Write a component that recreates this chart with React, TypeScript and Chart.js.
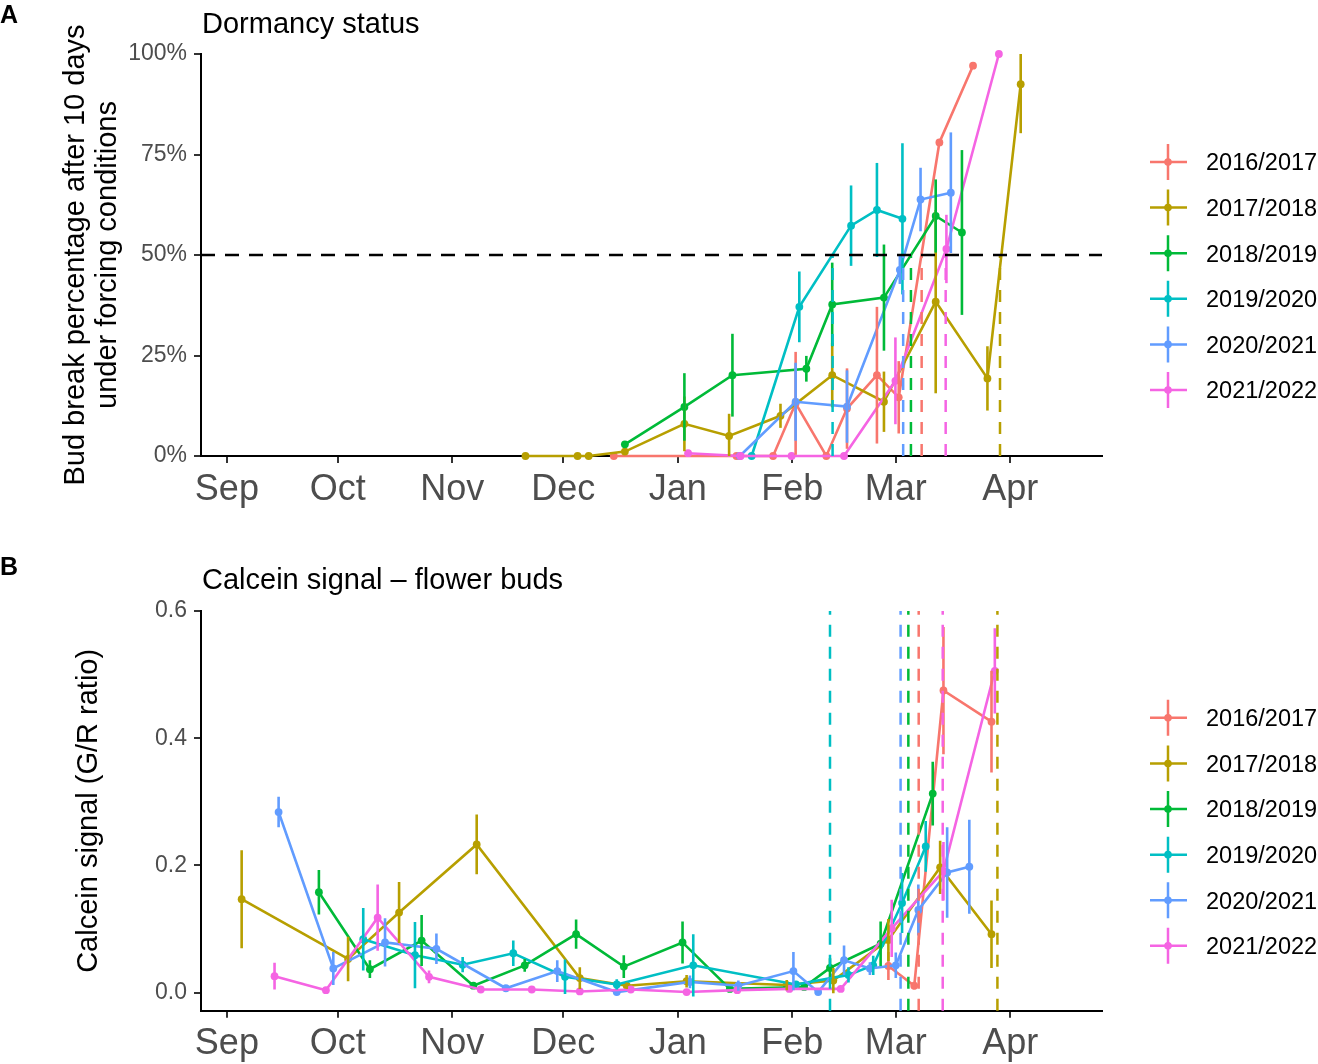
import React, { useEffect, useRef } from 'react';
import { Chart, registerables } from 'chart.js';

Chart.register(...registerables);

const FONT = "'Liberation Sans', Arial, Helvetica, sans-serif";
Chart.defaults.font.family = FONT;

// seasons and ggplot hue colours
const seasons = ['2016/2017', '2017/2018', '2018/2019', '2019/2020', '2020/2021', '2021/2022'];
const seasonColors = ['#F8766D', '#B79F00', '#00BA38', '#00BFC4', '#619CFF', '#F564E3'];

// x axis: days since 1 September
const monthTicks = [0, 30, 61, 91, 122, 153, 181, 212];
const monthLabels = ['Sep', 'Oct', 'Nov', 'Dec', 'Jan', 'Feb', 'Mar', 'Apr'];

// ---- A: bud break percentage (mean, +/- error) ----
const budDays1617 = [104.7, 137.9, 147.8, 153.9, 162.2, 167.8, 175.9, 181.8, 192.8, 201.9];
const bud1617 = [0, 0, 0, 13.1, 0, 11.8, 20.1, 14.6, 78.0, 97.1];
const budErr1617 = [0, 0, 0, 12.8, 0, 10, 17, 9, 0, 0];

const budDays1718 = [80.8, 94.9, 97.9, 107.7, 123.8, 135.9, 149.8, 163.8, 177.8, 191.8, 205.8, 214.8];
const bud1718 = [0, 0, 0, 1.1, 8.0, 5.0, 10.0, 20.1, 13.5, 38.4, 19.3, 92.5];
const budErr1718 = [0, 0, 0, 0, 6.8, 5.5, 3.0, 8, 7.5, 22.8, 8, 12.2];

const budDays1819 = [107.7, 123.8, 136.8, 156.8, 163.8, 177.8, 191.8, 198.9];
const bud1819 = [2.9, 12.2, 20.1, 21.7, 37.7, 39.4, 59.7, 55.6];
const budErr1819 = [0, 8.4, 10.3, 3.2, 10.4, 13.2, 9.1, 20.5];

const budDays1920 = [142.0, 154.9, 168.9, 175.9, 182.8];
const bud1920 = [0, 37.1, 57.3, 61.2, 59.0];
const budErr1920 = [0, 8.8, 10, 11.7, 18.8];

const budDays2021 = [138.8, 153.9, 167.8, 182.1, 187.7, 195.9];
const bud2021 = [0, 13.5, 12.3, 46.3, 63.8, 65.5];
const budErr2021 = [0, 9.7, 9, 3.5, 7.9, 15];

const budDays2122 = [124.8, 139.0, 152.8, 167.0, 180.9, 194.7, 208.9];
const bud2122 = [0.7, 0, 0, 0, 18.7, 51.5, 100];
const budErr2122 = [0, 0, 0, 0, 10.8, 8.5, 0];

// dates at which 50 % bud break is reached, per season
const budThresholdDays = [188.0, 209.2, 185.1, 163.9, 183.0, 194.5];

// ---- B: calcein signal (G/R ratio) ----
const calDays1617 = [179, 186, 193.9, 206.9];
const cal1617 = [0.042, 0.011, 0.475, 0.426];
const calErr1617 = [0.022, 0.006, 0.1, 0.08];

const calDays1718 = [4.0, 32.8, 46.6, 67.6, 95.5, 108.2, 124.4, 151.5, 164.1, 179, 193, 206.9];
const cal1718 = [0.147, 0.053, 0.126, 0.233, 0.023, 0.011, 0.018, 0.012, 0.019, 0.083, 0.197, 0.092];
const calErr1718 = [0.077, 0.035, 0.048, 0.047, 0.017, 0.005, 0.01, 0.008, 0.02, 0.033, 0.042, 0.053];

const calDays1819 = [24.9, 38.7, 52.7, 66.7, 80.6, 94.5, 107.4, 123.3, 136.1, 156.2, 163.2, 176.9, 191];
const cal1819 = [0.158, 0.037, 0.082, 0.011, 0.043, 0.092, 0.041, 0.079, 0.006, 0.009, 0.039, 0.077, 0.313];
const calErr1819 = [0.035, 0.014, 0.04, 0, 0.01, 0.023, 0.018, 0.033, 0, 0, 0.015, 0.035, 0.05];

const calDays1920 = [36.9, 50.9, 63.8, 77.5, 91.5, 105.5, 126.2, 154, 168.2, 174.9, 182.7, 189.1];
const cal1920 = [0.084, 0.059, 0.044, 0.062, 0.025, 0.013, 0.043, 0.013, 0.028, 0.043, 0.141, 0.23];
const calErr1920 = [0.049, 0.052, 0.012, 0.02, 0.027, 0.008, 0.049, 0.005, 0.012, 0.015, 0.047, 0.04];

const calDays2021 = [14.0, 28.8, 42.8, 56.7, 75.5, 89.4, 105.5, 125.3, 138.4, 153.3, 160, 167, 174, 181, 187.1, 194.9, 200.9];
const cal2021 = [0.284, 0.038, 0.079, 0.069, 0.007, 0.034, 0.001, 0.017, 0.011, 0.034, 0.001, 0.051, 0.038, 0.043, 0.13, 0.189, 0.198];
const calErr2021 = [0.024, 0.026, 0.038, 0.024, 0, 0.017, 0, 0.01, 0.008, 0.03, 0, 0.023, 0.01, 0.02, 0.04, 0.071, 0.074];

const calDays2122 = [12.9, 26.8, 40.8, 54.7, 68.7, 82.5, 95.5, 109.3, 124.4, 138.1, 152.2, 166.1, 179.9, 193.9, 207.8];
const cal2122 = [0.026, 0.004, 0.118, 0.025, 0.005, 0.005, 0.002, 0.005, 0.001, 0.004, 0.006, 0.006, 0.101, 0.191, 0.506];
const calErr2122 = [0.021, 0, 0.052, 0.01, 0, 0, 0, 0, 0, 0, 0, 0, 0.045, 0.046, 0.067];

const calThresholdDays = [187.2, 208.5, 184.4, 163.2, 182.3, 193.7];

type Series = { days: number[]; vals: number[]; errs: number[] };

type PanelSpec = {
  letter: string;
  letterY: number;
  title: string;
  titleY: number;
  yTitle: string[];
  yTitleX: number[];
  series: Series[];
  yMin: number;
  yMax: number;
  yTicks: number[];
  yLabel: (v: number) => string;
  thresholds: number[];
  thresholdTop: number | null; // null = full height
  hline: number | null;
  top: number;
  bottom: number;
  height: number;
};

const panelA: PanelSpec = {
  letter: 'A',
  letterY: 23,
  title: 'Dormancy status',
  titleY: 33,
  yTitle: ['Bud break percentage after 10 days', 'under forcing conditions'],
  yTitleX: [84, 116],
  series: [
    { days: budDays1617, vals: bud1617, errs: budErr1617 },
    { days: budDays1718, vals: bud1718, errs: budErr1718 },
    { days: budDays1819, vals: bud1819, errs: budErr1819 },
    { days: budDays1920, vals: bud1920, errs: budErr1920 },
    { days: budDays2021, vals: bud2021, errs: budErr2021 },
    { days: budDays2122, vals: bud2122, errs: budErr2122 },
  ],
  yMin: 0,
  yMax: 100,
  yTicks: [0, 25, 50, 75, 100],
  yLabel: (v) => `${v}%`,
  thresholds: budThresholdDays,
  thresholdTop: 50,
  hline: 50,
  top: 54,
  bottom: 456,
  height: 530,
};

const panelB: PanelSpec = {
  letter: 'B',
  letterY: 45,
  title: 'Calcein signal \u2013 flower buds',
  titleY: 59,
  yTitle: ['Calcein signal (G/R ratio)'],
  yTitleX: [97],
  series: [
    { days: calDays1617, vals: cal1617, errs: calErr1617 },
    { days: calDays1718, vals: cal1718, errs: calErr1718 },
    { days: calDays1819, vals: cal1819, errs: calErr1819 },
    { days: calDays1920, vals: cal1920, errs: calErr1920 },
    { days: calDays2021, vals: cal2021, errs: calErr2021 },
    { days: calDays2122, vals: cal2122, errs: calErr2122 },
  ],
  yMin: -0.0283,
  yMax: 0.6,
  yTicks: [0, 0.2, 0.4, 0.6],
  yLabel: (v) => v.toFixed(1),
  thresholds: calThresholdDays,
  thresholdTop: null,
  hline: null,
  top: 81,
  bottom: 480.7,
  height: 534,
};

function decorPlugin(spec: PanelSpec) {
  return {
    id: 'decor' + spec.letter,
    afterDatasetsDraw(chart: any) {
      const { ctx, chartArea: a, scales } = chart;
      const x = scales.x;
      const y = scales.y;
      // error bars
      ctx.save();
      ctx.beginPath();
      ctx.rect(a.left - 10, a.top, a.right - a.left + 20, a.bottom - a.top);
      ctx.clip();
      ctx.lineWidth = 2.6;
      spec.series.forEach((s, si) => {
        ctx.strokeStyle = seasonColors[si];
        s.days.forEach((d, i) => {
          const e = s.errs[i];
          if (!e) return;
          const px = x.getPixelForValue(d);
          ctx.beginPath();
          ctx.moveTo(px, y.getPixelForValue(s.vals[i] - e));
          ctx.lineTo(px, y.getPixelForValue(s.vals[i] + e));
          ctx.stroke();
        });
      });
      ctx.restore();

      // threshold lines
      ctx.save();
      ctx.lineWidth = 2.5;
      ctx.setLineDash([12, 10]);
      spec.thresholds.forEach((d, si) => {
        const px = x.getPixelForValue(d);
        const yTop = spec.thresholdTop === null ? a.top : y.getPixelForValue(spec.thresholdTop);
        ctx.strokeStyle = seasonColors[si];
        ctx.beginPath();
        ctx.moveTo(px, a.bottom);
        ctx.lineTo(px, yTop);
        ctx.stroke();
      });
      if (spec.hline !== null) {
        const py = y.getPixelForValue(spec.hline);
        ctx.strokeStyle = '#000000';
        ctx.setLineDash([14, 10]);
        ctx.beginPath();
        ctx.moveTo(a.left, py);
        ctx.lineTo(a.right, py);
        ctx.stroke();
      }
      ctx.restore();
    },
    afterDraw(chart: any) {
      const { ctx, chartArea: a } = chart;
      ctx.save();
      ctx.fillStyle = '#000000';
      ctx.textBaseline = 'alphabetic';
      ctx.textAlign = 'left';
      ctx.font = `bold 25px ${FONT}`;
      ctx.fillText(spec.letter, 0, spec.letterY);
      ctx.font = `29px ${FONT}`;
      ctx.fillText(spec.title, a.left + 1, spec.titleY);

      // y axis title
      const midY = (a.top + a.bottom) / 2;
      ctx.font = `29px ${FONT}`;
      ctx.textAlign = 'center';
      spec.yTitle.forEach((line, i) => {
        ctx.save();
        ctx.translate(spec.yTitleX[i], midY);
        ctx.rotate(-Math.PI / 2);
        ctx.fillText(line, 0, 0);
        ctx.restore();
      });

      // legend
      const step = 45.6;
      const y0 = midY + 21 - step * 2.5;
      ctx.font = `23.5px ${FONT}`;
      ctx.textAlign = 'left';
      seasons.forEach((name, i) => {
        const cy = y0 + i * step;
        const col = seasonColors[i];
        ctx.strokeStyle = col;
        ctx.fillStyle = col;
        ctx.lineWidth = 2.5;
        ctx.beginPath();
        ctx.moveTo(1150, cy);
        ctx.lineTo(1187, cy);
        ctx.moveTo(1168, cy - 18);
        ctx.lineTo(1168, cy + 18);
        ctx.stroke();
        ctx.beginPath();
        ctx.arc(1168, cy, 3.8, 0, Math.PI * 2);
        ctx.fill();
        ctx.fillStyle = '#000000';
        ctx.fillText(name, 1206, cy + 8.4);
      });
      ctx.restore();
    },
  };
}

function buildConfig(spec: PanelSpec): any {
  const n = spec.series.length;
  return {
    type: 'line',
    data: {
      datasets: spec.series.map((s, i) => ({
        label: seasons[i],
        data: s.days.map((d, k) => ({ x: d, y: s.vals[k] })),
        borderColor: seasonColors[i],
        backgroundColor: seasonColors[i],
        pointBackgroundColor: seasonColors[i],
        borderWidth: 2.6,
        pointRadius: 3.9,
        pointBorderWidth: 0,
        pointHoverRadius: 3.9,
        tension: 0,
        clip: false,
        order: n - i,
      })),
    },
    options: {
      animation: false,
      responsive: true,
      maintainAspectRatio: false,
      events: [],
      layout: { padding: { left: 0, top: spec.top, right: 216, bottom: 0 } },
      plugins: {
        legend: { display: false },
        title: { display: false },
        tooltip: { enabled: false },
      },
      scales: {
        x: {
          type: 'linear',
          min: -7,
          max: 236.8,
          bounds: 'data',
          afterBuildTicks: (s: any) => {
            s.ticks = monthTicks.map((v) => ({ value: v }));
          },
          afterFit: (s: any) => {
            s.height = spec.height - spec.bottom;
          },
          ticks: {
            autoSkip: false,
            maxRotation: 0,
            padding: 5,
            color: '#4D4D4D',
            font: { size: 36 },
            callback: (_v: any, i: number) => monthLabels[i],
          },
          grid: { drawOnChartArea: false, tickLength: 7, color: '#333333', lineWidth: 2 },
          border: { display: true, color: '#000000', width: 2 },
        },
        y: {
          type: 'linear',
          min: spec.yMin,
          max: spec.yMax,
          bounds: 'data',
          afterBuildTicks: (s: any) => {
            s.ticks = spec.yTicks.map((v) => ({ value: v }));
          },
          afterFit: (s: any) => {
            s.width = 201;
          },
          ticks: {
            padding: 7,
            color: '#4D4D4D',
            font: { size: 23 },
            callback: (_v: any, i: number) => spec.yLabel(spec.yTicks[i]),
          },
          grid: { drawOnChartArea: false, tickLength: 7, color: '#333333', lineWidth: 2 },
          border: { display: true, color: '#000000', width: 2 },
        },
      },
    },
    plugins: [decorPlugin(spec)],
  };
}

function Panel({ spec }: { spec: PanelSpec }) {
  const canvasRef = useRef<HTMLCanvasElement | null>(null);

  useEffect(() => {
    const canvas = canvasRef.current;
    if (!canvas) return;
    const chart = new Chart(canvas, buildConfig(spec));
    return () => chart.destroy();
  }, [spec]);

  return (
    <div style={{ position: 'relative', width: 1318, height: spec.height }}>
      <canvas ref={canvasRef} aria-label={spec.title} />
    </div>
  );
}

export default function App() {
  return (
    <div style={{ position: 'absolute', left: 0, top: 0, width: 1318, height: 1064, background: '#ffffff' }}>
      <Panel spec={panelA} />
      <Panel spec={panelB} />
    </div>
  );
}
